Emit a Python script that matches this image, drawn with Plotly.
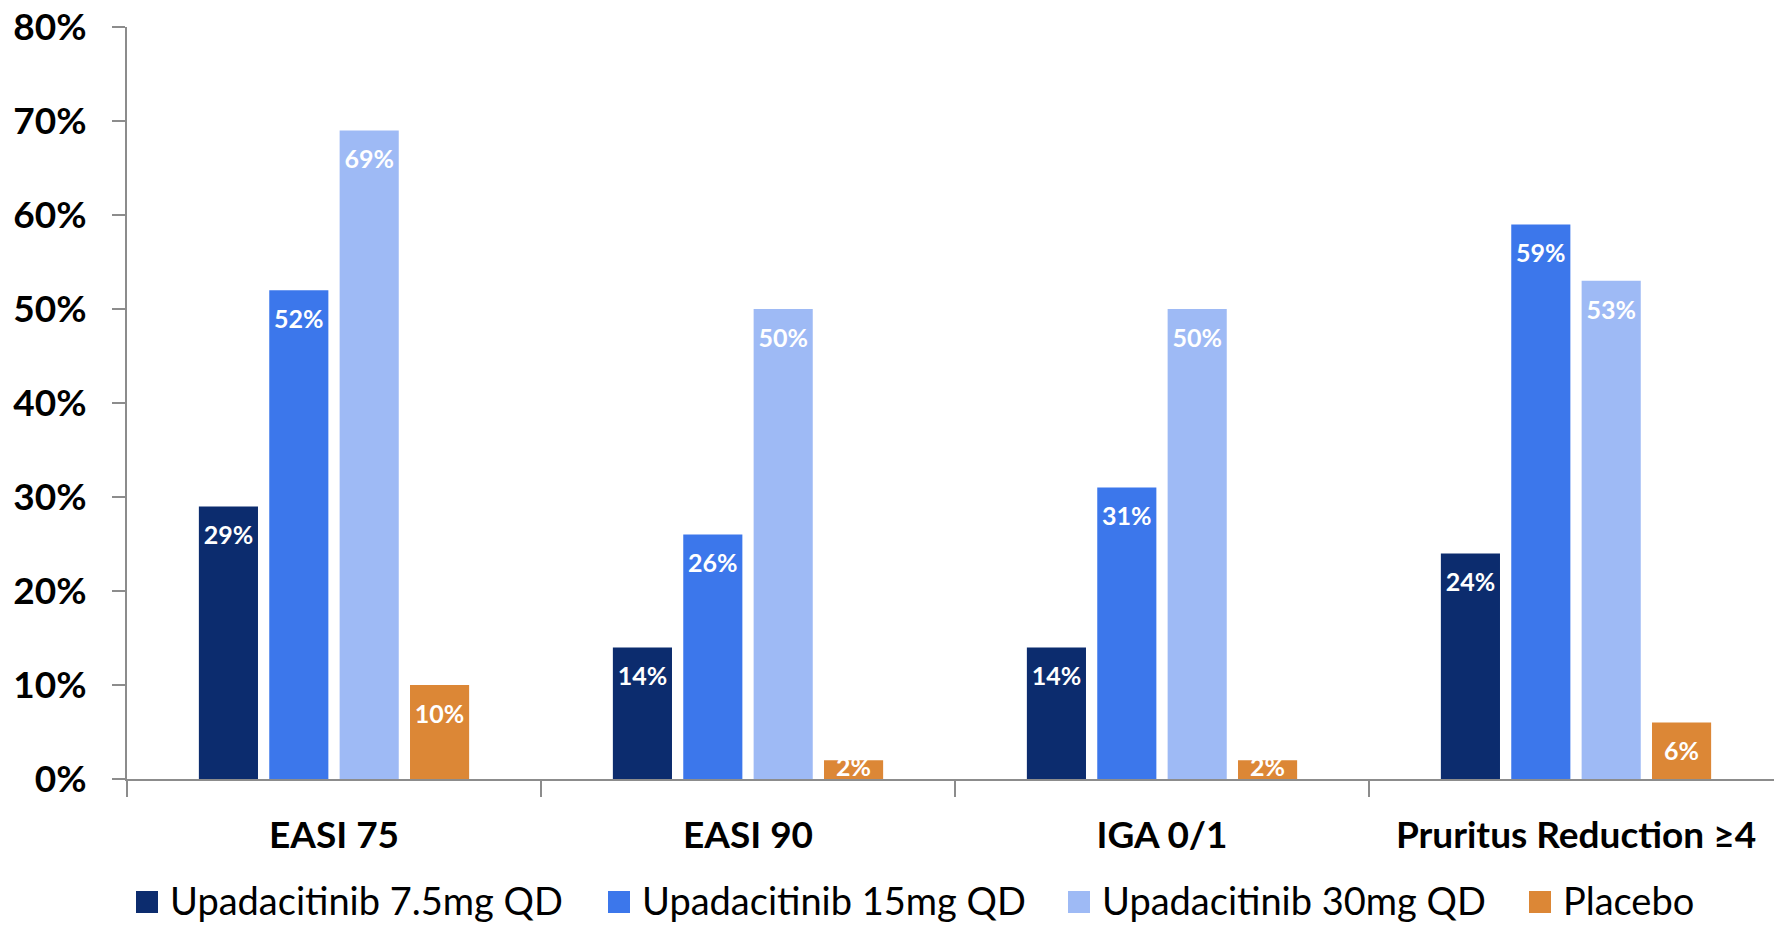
import plotly.graph_objects as go

# Response rates at week 16 by endpoint
categories = ["EASI 75", "EASI 90", "IGA 0/1", "Pruritus Reduction ≥4"]
series_names = ["Upadacitinib 7.5mg QD", "Upadacitinib 15mg QD",
                "Upadacitinib 30mg QD", "Placebo"]
upa_7_5mg = [29, 14, 14, 24]
upa_15mg = [52, 26, 31, 59]
upa_30mg = [69, 50, 50, 53]
placebo = [10, 2, 2, 6]
y_tick_values = [0, 10, 20, 30, 40, 50, 60, 70, 80]

series_values = [upa_7_5mg, upa_15mg, upa_30mg, placebo]
colors = ["#0c2c6e", "#3c77eb", "#9ebaf5", "#dc8736"]

W, H = 1774, 925
M_L, M_R, M_T, M_B = 127, 0, 27, 146
PLOT_W = W - M_L - M_R
PLOT_H = H - M_T - M_B
AXIS_GREY = "#8c8c8c"
FONT = "Lato"

fig = go.Figure()

for i, (name, vals) in enumerate(zip(series_names, series_values)):
    fig.add_trace(go.Bar(
        x=categories, y=vals, name=name,
        marker=dict(color=colors[i], line=dict(width=0)),
        offsetgroup=str(i), alignmentgroup="g",
        showlegend=False, hoverinfo="skip",
    ))

# Value labels: inside the top of each bar; short bars get the label centred
for i, vals in enumerate(series_values):
    label_y = [v if v >= 4 else v / 2 for v in vals]
    label_pos = ["bottom center" if v >= 4 else "middle center" for v in vals]
    fig.add_trace(go.Scatter(
        x=categories, y=label_y,
        mode="markers+text",
        text=[f"{v}%" for v in vals],
        textposition=label_pos,
        textfont=dict(family=FONT, size=25, color="white", weight=700),
        marker=dict(size=29, color="rgba(0,0,0,0)"),
        offsetgroup=str(i), alignmentgroup="g",
        showlegend=False, hoverinfo="skip", cliponaxis=False,
    ))


def px_x(px):
    return (px - M_L) / PLOT_W


def px_y(py):
    return (M_T + PLOT_H - py) / PLOT_H


# Legend drawn below the category labels
legend_left = [136, 608, 1068, 1529]
legend_cy = 900
sq = 22
shapes = []
annotations = []
for name, color, lx in zip(series_names, colors, legend_left):
    shapes.append(dict(
        type="rect", xref="paper", yref="paper",
        x0=px_x(lx), x1=px_x(lx + sq),
        y0=px_y(legend_cy + 2 + sq / 2), y1=px_y(legend_cy + 2 - sq / 2),
        fillcolor=color, line=dict(width=0), layer="above",
    ))
    annotations.append(dict(
        xref="paper", yref="paper", x=px_x(lx + sq + 10), y=px_y(legend_cy),
        xanchor="left", yanchor="middle", showarrow=False, text=name,
        font=dict(family=FONT, size=38, color="black"),
    ))

fig.update_layout(
    width=W, height=H,
    margin=dict(l=M_L, r=M_R, t=M_T, b=M_B, pad=0),
    template="none",
    plot_bgcolor="white", paper_bgcolor="white",
    barmode="group", bargap=0.32, bargroupgap=0.16,
    scattermode="group", scattergap=0.32,
    shapes=shapes, annotations=annotations,
    showlegend=False,
)

fig.update_xaxes(
    type="category", categoryorder="array", categoryarray=categories,
    range=[-0.5, -0.5 + PLOT_W / 414],
    showline=True, linecolor=AXIS_GREY, linewidth=2,
    ticks="outside", tickson="boundaries", ticklen=16, tickwidth=2,
    tickcolor=AXIS_GREY, showgrid=False, zeroline=False,
    tickfont=dict(family=FONT, size=37, color="black", weight=700),
    ticklabelstandoff=23, automargin=False,
)

fig.update_yaxes(
    range=[0, 80], tickvals=y_tick_values,
    ticktext=[f"{v}%" for v in y_tick_values],
    showline=True, linecolor=AXIS_GREY, linewidth=2,
    ticks="outside", ticklen=13, tickwidth=2, tickcolor=AXIS_GREY,
    showgrid=False, zeroline=False,
    tickfont=dict(family=FONT, size=37, color="black", weight=700),
    ticklabelstandoff=18, automargin=False,
)

fig.write_html("out.html")
